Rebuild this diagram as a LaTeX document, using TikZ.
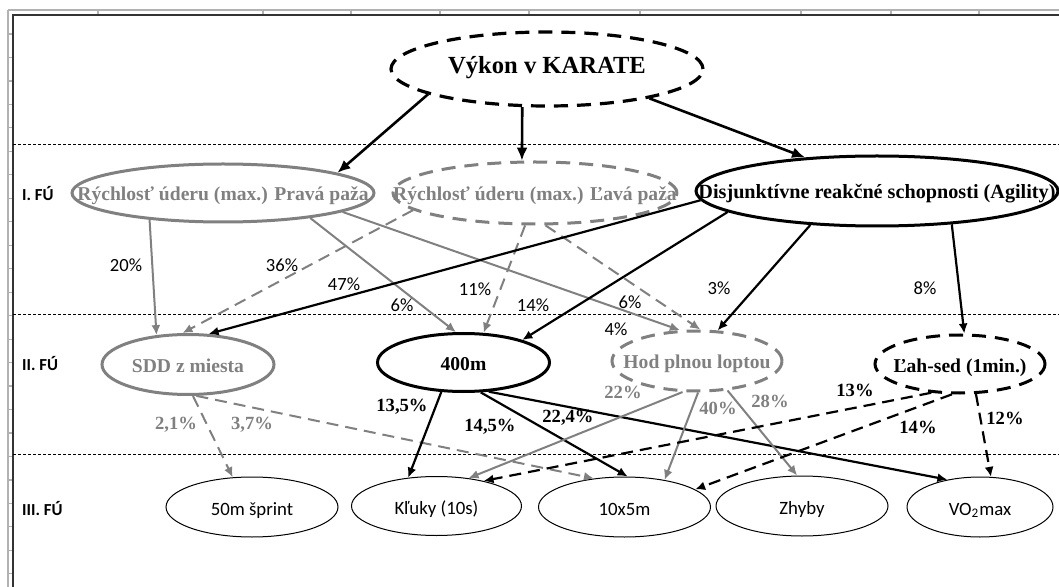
\documentclass[tikz,border=0pt]{standalone}
\usepackage{fontspec}
\setmainfont{Liberation Serif}
\newfontfamily\calibri{Carlito}
\usetikzlibrary{arrows.meta,shapes.geometric}
\definecolor{fugray}{RGB}{128,128,128}
\definecolor{framegray}{RGB}{178,178,178}
\newcommand{\ntext}[1]{\makebox[0pt]{#1}}

\begin{document}
\begin{tikzpicture}[x=0.5pt,y=-0.5pt,
  el/.style={ellipse,inner sep=0pt,line width=1.5pt,text height=1em,text depth=0.2em},
  el3/.style={ellipse,draw,inner sep=0pt,line width=0.5pt,text height=1em,text depth=0.14em,
    font=\fontsize{9.4}{11}\selectfont\calibri},
  tl/.style={font=\fontsize{9.8}{11}\selectfont\bfseries},
  pl/.style={font=\fontsize{9.3}{11}\selectfont\calibri},
  bp/.style={font=\fontsize{9.3}{11}\selectfont\bfseries},
  fu/.style={font=\fontsize{8.4}{10}\selectfont\calibri\bfseries,anchor=west},
  dsh/.style={dash pattern=on 6pt off 3.5pt},
  eldsh/.style={dash pattern=on 7pt off 4.5pt},
  tar/.style={line width=1.3pt,-{Latex[length=6.5pt,width=5.5pt]}},
  kar/.style={line width=1.1pt,-{Latex[length=5pt,width=4.5pt]}},
  gar/.style={draw=fugray,line width=1pt,-{Latex[length=5pt,width=4.5pt]}}]
\useasboundingbox (0,0) rectangle (1059,587);

% sheet frame
\draw[framegray,line width=1pt] (8,10) -- (1059,10);
\draw[framegray,line width=1pt] (8,10) -- (8,587);
\foreach \cx in {98,263,351,440,529,640,801,891,979}
  \draw[framegray,line width=0.6pt] (\cx,10) -- (\cx,15);
\foreach \r in {0,...,23}
  \draw[framegray,line width=0.6pt] (8,{34+23.47*\r}) -- (13,{34+23.47*\r});
\draw[black!80,line width=0.8pt] (13,587) -- (13,15) -- (1059,15);

\draw[line width=0.4pt,dash pattern=on 1.5pt off 1pt] (13,144) -- (1059,144);
\draw[line width=0.4pt,dash pattern=on 1.5pt off 1pt] (13,314) -- (1059,314);
\draw[line width=0.4pt,dash pattern=on 1.5pt off 1pt] (13,454) -- (1059,454);

\node[fu] (fu1) at (15,194) {I. FÚ};
\node[fu] (fu2) at (15,364) {II. FÚ};
\node[fu] (fu3) at (15,509) {III. FÚ};

\node[el,draw,line width=1.6pt,eldsh,minimum width=156pt,minimum height=37pt,text height=0.68em,text depth=0.18em,
  font=\fontsize{12.3}{14}\selectfont\bfseries] (vykon) at (547,69) {\ntext{Výkon v KARATE}};

\node[el,draw=fugray,text=fugray,tl,minimum width=151pt,minimum height=29pt] (prava) at (223,193) {\ntext{Rýchlosť úderu (max.) Pravá paža}};
\node[el,draw=fugray,eldsh,text=fugray,tl,minimum width=142pt,minimum height=31pt] (lava) at (535,193) {\ntext{Rýchlosť úderu (max.) Ľavá paža}};
\node[el,draw,tl,font=\fontsize{10.1}{12}\selectfont\bfseries,minimum width=181pt,minimum height=35pt] (agil) at (877,191) {\ntext{Disjunktívne reakčné schopnosti (Agility)}};

\node[el,draw=fugray,text=fugray,tl,minimum width=86pt,minimum height=30pt] (sdd) at (188,364.5) {\ntext{SDD z miesta}};
\node[el,draw,tl,minimum width=86pt,minimum height=29pt] (m400) at (463.5,362.5) {\ntext{400m}};
\node[el,draw=fugray,eldsh,text=fugray,tl,minimum width=85pt,minimum height=30pt] (hod) at (697,361) {\ntext{Hod plnou loptou}};
\node[el,draw,eldsh,tl,minimum width=85pt,minimum height=29pt] (lah) at (960,364) {\ntext{Ľah-sed (1min.)}};

\node[el3,minimum width=86pt,minimum height=30pt] (s50) at (252,507) {\ntext{50m šprint}};
\node[el3,minimum width=85pt,minimum height=29.5pt] (kluky) at (436.5,506) {\ntext{Kľuky (10s)}};
\node[el3,minimum width=86pt,minimum height=30pt] (x10) at (624.5,507) {\ntext{10x5m}};
\node[el3,minimum width=86pt,minimum height=30pt] (zhyby) at (802,506) {\ntext{Zhyby}};
\node[el3,minimum width=73pt,minimum height=30pt] (vo) at (980,507) {\ntext{VO\textsubscript{2}max}};

\draw[tar] (vykon.-168) -- (prava.10);
\draw[tar] (vykon.-123) -- (lava.112);
\draw[tar] (vykon.-16) -- (agil.155);

\draw[gar] (prava.-160) -- (sdd.137);
\draw[gar] (prava.-16) -- (m400.104);
\draw[gar] (prava.-9) -- (hod.119);
\draw[gar,dsh] (lava.-172) -- (sdd.100);
\draw[gar,dsh] (lava.-107) -- (m400.56);
\draw[gar,dsh] (lava.-72) -- (hod.84);
\draw[kar] (agil.-177) -- (sdd.56);
\draw[kar] (agil.-172) -- (m400.21);
\draw[kar] (agil.-153) -- (hod.56);
\draw[kar] (agil.-24) -- (lah.82);

\draw[gar,dsh] (sdd.-81) -- (s50.123);
\draw[gar,dsh] (sdd.-75) -- (x10.137);
\draw[kar] (m400.-127) -- (kluky.135);
\draw[kar] (m400.-60) -- (x10.84);
\draw[kar] (m400.-49) -- (vo.140);
\draw[gar] (hod.-115) -- (kluky.41);
\draw[gar] (hod.-88) -- (x10.34);
\draw[gar] (hod.-44) -- (zhyby.99);
\draw[kar,dsh] (lah.-135) -- (kluky.28);
\draw[kar,dsh] (lah.-105) -- (x10.14);
\draw[kar,dsh] (lah.-62) -- (vo.70);

\node[pl] (q20) at (126,265) {20\%};
\node[pl] (q36) at (282,265) {36\%};
\node[pl] (q47) at (344,284) {47\%};
\node[pl] (q6a) at (402,305) {6\%};
\node[pl] (q11) at (475,289) {11\%};
\node[pl] (q14) at (533,305) {14\%};
\node[pl] (q6b) at (630,302) {6\%};
\node[pl] (q4) at (616,329) {4\%};
\node[pl] (q3) at (719,288) {3\%};
\node[pl] (q8) at (925,288) {8\%};

\node[bp,text=fugray] (r21) at (176,425) {2,1\%};
\node[bp,text=fugray] (r37) at (252,425) {3,7\%};
\node[bp,text=fugray] (r22) at (623,392) {22\%};
\node[bp,text=fugray] (r40) at (718,408) {40\%};
\node[bp,text=fugray] (r28) at (770,401) {28\%};
\node[bp] (r135) at (402,407) {13,5\%};
\node[bp] (r145) at (490,427) {14,5\%};
\node[bp] (r224) at (568,418) {22,4\%};
\node[bp] (r13) at (855,390) {13\%};
\node[bp] (r14) at (918,427) {14\%};
\node[bp] (r12) at (1005,418) {12\%};
\end{tikzpicture}
\end{document}
